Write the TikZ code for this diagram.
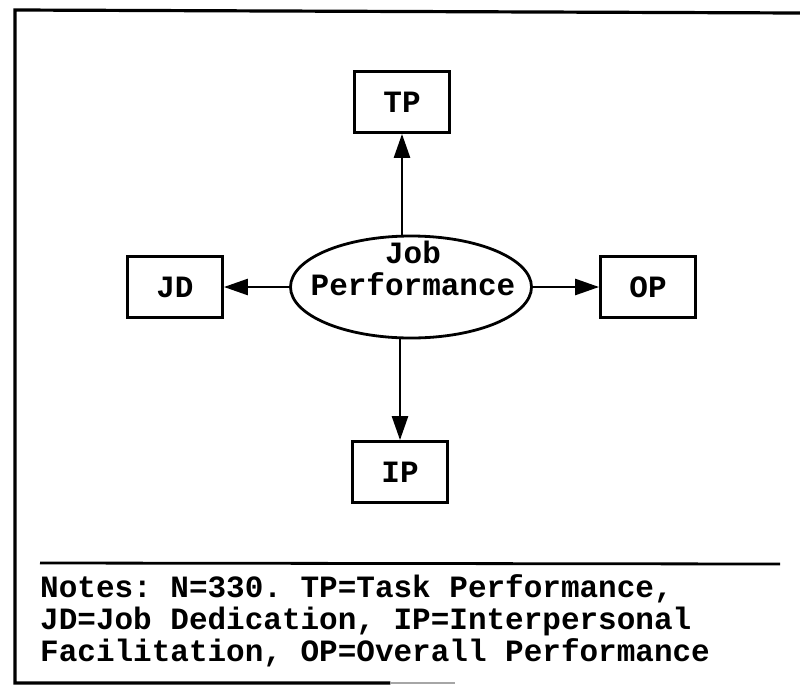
\documentclass[tikz,border=0pt]{standalone}
\usepackage{fontspec}
\setmonofont{Liberation Mono}
\usetikzlibrary{arrows.meta,shapes.geometric}
\begin{document}
\begin{tikzpicture}[x=1pt,y=-1pt,
  txt/.style={font=\ttfamily\bfseries\fontsize{31}{32}\selectfont},
  varbox/.style={txt,draw,line width=2.8pt,minimum width=95pt,minimum height=61pt,inner sep=0pt},
  latent/.style={draw,ellipse,line width=2.8pt,minimum width=241pt,minimum height=102pt,inner sep=0pt},
  arr/.style={line width=2.6pt,-{Triangle[length=24pt,width=16pt]}},
  frame/.style={line width=3.2pt,line cap=round}]
\useasboundingbox (0,0) rectangle (800,686);
% frame
\coordinate (f1) at (15,683);
\coordinate (f2) at (15,10);
\coordinate (f3) at (800,13);
\coordinate (f4) at (390,683);
\coordinate (f5) at (455,683);
\draw[frame] (f4) -- (f1) -- (f2) -- (f3);
\draw[line width=2pt,black!35] (f4) -- (f5);
% nodes
\node[latent] (jp) at (411,287) {};
\node[txt,align=center,anchor=base,inner sep=0pt] (jpt) at (413,295) {Job\\Performance};
\node[varbox] (tp) at (402,102) {TP};
\node[varbox] (jd) at (175,287) {JD};
\node[varbox] (op) at (648,287) {OP};
\node[varbox] (ip) at (400,472) {IP};
% connectors
\draw[arr] (tp.south |- jp.north) ++(0,1) -- (tp.south);
\draw[arr] (ip.north |- jp.south) ++(0,-1) -- (ip.north);
\draw[arr] (jp.west) -- (jd.east);
\draw[arr] (jp.east) -- (op.west);
% separator
\coordinate (s1) at (40,563);
\coordinate (s2) at (780,564);
\draw[line width=2.8pt] (s1) -- (s2);
% notes
\node[txt,anchor=base west,inner sep=0pt,align=left] (notes) at (40,661)
 {Notes: N=330. TP=Task Performance,\\JD=Job Dedication, IP=Interpersonal\\Facilitation, OP=Overall Performance};
\end{tikzpicture}
\end{document}
